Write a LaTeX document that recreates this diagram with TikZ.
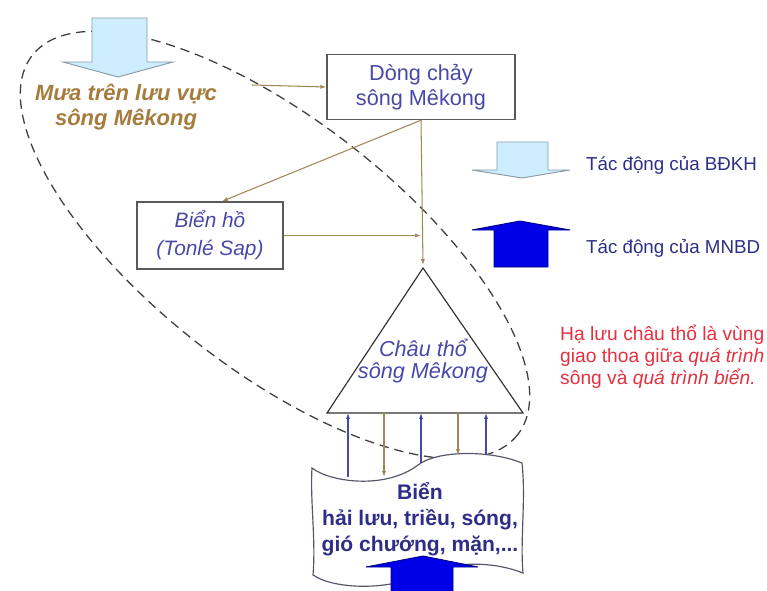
\documentclass[tikz,border=0pt]{standalone}
\usepackage{fontspec}
\setmainfont{Liberation Sans}
\usepackage{tikz}
\usepackage{xcolor}
\usetikzlibrary{arrows.meta,positioning}
\definecolor{flowbrown}{HTML}{A08858}
\definecolor{raintext}{HTML}{A67C3C}
\definecolor{boxtext}{HTML}{4848A8}
\definecolor{keytext}{HTML}{2E2E88}
\definecolor{redtext}{HTML}{E5303F}
\definecolor{paleblue}{HTML}{CDEEFF}
\definecolor{paleedge}{HTML}{8A9AA8}
\definecolor{deepblue}{HTML}{0000E8}
\definecolor{deepedge}{HTML}{00008A}
\definecolor{frame}{HTML}{5A5A5A}

\tikzset{
    flowbox/.style={draw=frame,line width=1.2pt,inner sep=0pt,align=center,text=boxtext},
    flow/.style={draw=flowbrown,line width=0.9pt},
    seaup/.style={draw=boxtext,line width=0.9pt}
}

\begin{document}
\begin{tikzpicture}[x=0.03cm,y=-0.03cm,>={Latex[length=5pt,width=3.5pt]}]
    \useasboundingbox (0,0) rectangle (767,590);
    % dashed zone
    \draw[dashed,line width=1.1pt,dash pattern=on 8pt off 5pt,draw=black!75] (275,245) ellipse [x radius=308,y radius=125,rotate=-38];
    % rain arrow
    \draw[fill=paleblue,draw=paleedge,line width=0.8pt] (92,18)--(147,18)--(147,62)--(173,62)--(118,77)--(63,62)--(92,62)--cycle;
    \node[text=raintext,align=center,font=\bfseries\itshape\fontsize{18.8}{21}\selectfont] (mua) at (126,107) {Mưa trên lưu vực\\sông Mêkong};
    % boxes
    \node[flowbox,minimum width=5.64cm,minimum height=1.95cm,font=\fontsize{18.5}{21}\selectfont] (dong) at (421,87) {Dòng chảy\\sông Mêkong};
    \node[flowbox,minimum width=4.38cm,minimum height=2.01cm,font=\itshape\fontsize{17.8}{24}\selectfont] (bienho) at (210,235.5) {Biển hồ\\(Tonlé Sap)};
    % delta
    \coordinate (apex) at (423,268);
    \coordinate (bl) at (327,413);
    \coordinate (br) at (523,413);
    \draw[draw=black!80,line width=1pt] (apex)--(bl)--(br)--cycle;
    \node[text=boxtext,align=center,font=\itshape\fontsize{18.5}{19}\selectfont] (chau) at (423,361) {Châu thổ\\sông Mêkong};
    % connectors
    \coordinate (rain) at (252,85);
    \draw[flow,->] (rain)--(dong.west);
    \draw[flow,->] (dong.south)--([xshift=0.36cm]bienho.north);
    \draw[flow,->] (dong.south)--([yshift=0.09cm]apex);
    \draw[flow,->] (bienho.east)--(bienho.east -| dong.south);
    % sea
    \draw[draw=frame!80!boxtext,line width=1pt,fill=white] (312,468) .. controls (330,482) and (385,490) .. (418,465) .. controls (438,450) and (490,450) .. (522,463)
        .. controls (526,500) and (520,540) .. (523,573) .. controls (490,560) and (450,562) .. (420,575) .. controls (390,590) and (335,590) .. (313,575)
        .. controls (316,540) and (310,500) .. cycle;
    \node[text=keytext,align=center,font=\bfseries\fontsize{18}{22}\selectfont] (bien) at (420,519) {Biển\\hải lưu, triều, sóng,\\gió chướng, mặn,...};
    \foreach \x/\y in {348/477,421/463,486/455}
    {
        \draw[seaup,->] (\x,\y)--(\x,413);
    }
    \foreach \x/\y in {384/477,458/455}
    {
        \draw[flow,->] (\x,413)--(\x,\y);
    }
    \draw[fill=deepblue,draw=deepedge,line width=0.8pt] (391,592)--(391,567)--(366,567)--(423,556)--(478,567)--(453,567)--(453,592);
    % key
    \draw[fill=paleblue,draw=paleedge,line width=0.8pt] (497,142)--(548,142)--(548,170)--(570,170)--(522,178)--(472,170)--(497,170)--cycle;
    \node[anchor=west,text=keytext,font=\fontsize{16}{18}\selectfont] (bdkh) at (582,165) {Tác động của BĐKH};
    \draw[fill=deepblue,draw=deepedge,line width=0.8pt] (494,267)--(494,230)--(472,230)--(520,221)--(570,230)--(548,230)--(548,267)--cycle;
    \node[anchor=west,text=keytext,font=\fontsize{16}{18}\selectfont] (mnbd) at (582,248) {Tác động của MNBD};
    \node[anchor=west,text=redtext,align=left,inner sep=0pt,font=\fontsize{16.4}{18.8}\selectfont] (note) at (560,357) {Hạ lưu châu thổ là vùng\\giao thoa giữa \textit{quá trình}\\sông và \textit{quá trình biển.}};
\end{tikzpicture}
\end{document}
